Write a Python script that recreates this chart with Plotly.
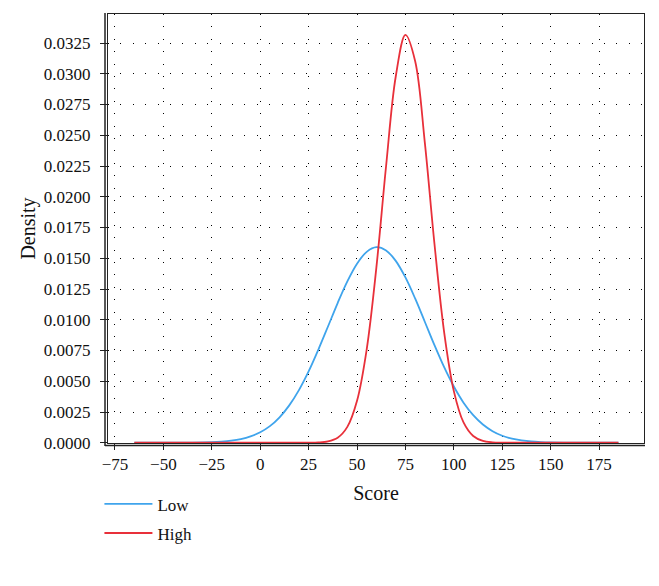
import plotly.graph_objects as go

# Score axis sample points
score = [-65, -55, -45, -35, -25, -20, -15, -10, -5, 0, 5, 10, 15, 20, 25, 30, 35, 40, 45,
         50, 55, 60, 65, 70, 75, 80, 85, 90, 95, 100, 105, 110, 115, 120, 125, 130, 135,
         140, 145, 150, 160, 170, 185]

low_density = [0.0, 0.0, 0.000002, 0.000011, 0.000046, 0.00009, 0.000166, 0.000298, 0.000515,
               0.00085, 0.00135, 0.00207, 0.00304, 0.00428, 0.0058, 0.00756, 0.00945, 0.01136,
               0.01312, 0.01456, 0.01552, 0.0159, 0.01564, 0.01479, 0.01344, 0.01173, 0.00984,
               0.00793, 0.00614, 0.00457, 0.00326, 0.00224, 0.00148, 0.00094, 0.00057, 0.00033,
               0.00019, 0.0001, 0.000053, 0.000026, 0.000006, 0.000001, 0.0]

high_density = [0.0, 0.0, 0.0, 0.0, 0.0, 0.0, 0.0, 0.0, 0.0, 0.0, 0.0, 0.0, 0.0, 0.000001,
                0.000004, 0.000024, 0.000109, 0.000407, 0.00129, 0.00341, 0.0076, 0.01426,
                0.02248, 0.02978, 0.03316, 0.03104, 0.02443, 0.01616, 0.00898, 0.0042, 0.00165,
                0.00055, 0.00015, 0.000035, 0.000007, 0.0, 0.0, 0.0, 0.0, 0.0, 0.0, 0.0, 0.0]

x_ticks = [-75, -50, -25, 0, 25, 50, 75, 100, 125, 150, 175]
y_ticks = [0.0, 0.0025, 0.005, 0.0075, 0.01, 0.0125, 0.015, 0.0175, 0.02, 0.0225,
           0.025, 0.0275, 0.03, 0.0325]

FONT = "Liberation Serif, Times New Roman, serif"
AX = "#222222"

fig = go.Figure()
fig.add_trace(go.Scatter(x=score, y=low_density, mode="lines", name="Low", legendgroup="low",
                         line=dict(color="#3FA4EC", width=1.8, shape="spline")))
fig.add_trace(go.Scatter(x=score, y=high_density, mode="lines", name="High", legendgroup="high",
                         line=dict(color="#E8303A", width=1.8, shape="spline")))

fig.update_layout(
    width=659, height=586,
    margin=dict(l=108, r=15, t=14, b=143, autoexpand=False),
    paper_bgcolor="white", plot_bgcolor="white",
    font=dict(family=FONT, size=17, color="#111"),
    showlegend=True,
    legend=dict(orientation="v", x=-0.016, xanchor="left", y=-0.101, yanchor="top",
                font=dict(family=FONT, size=17, color="#111"),
                bgcolor="rgba(0,0,0,0)", tracegroupgap=4, itemwidth=48),
    xaxis=dict(range=[-78.6, 198.2], tickvals=x_ticks, showline=True, mirror=True,
               linecolor=AX, linewidth=1, ticks="outside", ticklen=6, tickcolor=AX,
               showgrid=True, gridcolor="#000", gridwidth=1, griddash="1px,11.4px",
               zeroline=False, title=dict(text="Score", standoff=12),
               ticklabelstandoff=0, automargin=False),
    yaxis=dict(range=[-0.00002, 0.03486], tickvals=y_ticks, tickformat=".4f",
               showline=True, mirror=True, linecolor=AX, linewidth=1,
               ticks="outside", ticklen=7, tickcolor=AX,
               showgrid=True, gridcolor="#000", gridwidth=1, griddash="1px,11.4px",
               zeroline=False, title=dict(text="Density", standoff=2),
               ticklabelstandoff=6, automargin=False),
)

# outer (double) axis lines on left and bottom
fig.add_shape(type="line", xref="paper", yref="paper", xsizemode="pixel", xanchor=0,
              x0=-3, x1=-3, ysizemode="pixel", yanchor=0, y0=-3, y1=430,
              line=dict(color=AX, width=1.5), layer="above")
fig.add_shape(type="line", xref="paper", yref="paper", xsizemode="pixel", xanchor=0,
              x0=-3, x1=537, ysizemode="pixel", yanchor=0, y0=-2.5, y1=-2.5,
              line=dict(color=AX, width=1.5), layer="above")

fig.write_html("out.html", config={"displayModeBar": False},
               post_script="document.body.style.margin='0px';")
